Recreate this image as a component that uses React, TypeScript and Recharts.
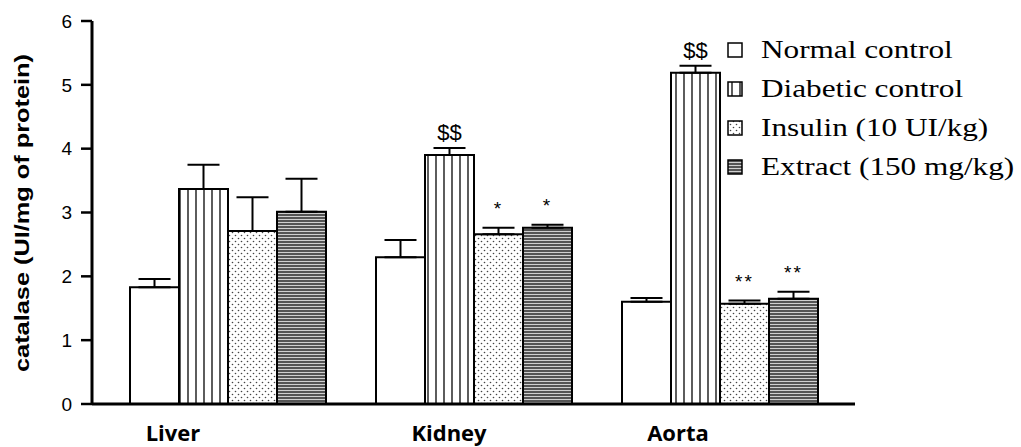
import React from 'react';
import { BarChart, Bar, XAxis, YAxis, ErrorBar, LabelList, Legend } from 'recharts';

const organs = ['Liver', 'Kidney', 'Aorta'];

const normalControl = [1.83, 2.3, 1.6];
const normalControlErr = [0.13, 0.27, 0.06];
const diabeticControl = [3.37, 3.9, 5.19];
const diabeticControlErr = [0.38, 0.11, 0.11];
const insulin = [2.71, 2.66, 1.57];
const insulinErr = [0.53, 0.1, 0.05];
const extract = [3.01, 2.76, 1.65];
const extractErr = [0.52, 0.05, 0.11];

const normalMarks = ['', '', ''];
const diabeticMarks = ['', '$$', '$$'];
const insulinMarks = ['', '*', '**'];
const extractMarks = ['', '*', '**'];

const yTicks = [0, 1, 2, 3, 4, 5, 6];

// label nudges, the original labels are not centred under the groups
const labelShift = [-55, -25, -42];

const series = [
  { key: 'normal', name: 'Normal control', fill: '#ffffff', values: normalControl, errs: normalControlErr, marks: normalMarks },
  { key: 'diabetic', name: 'Diabetic control', fill: 'url(#vlines)', values: diabeticControl, errs: diabeticControlErr, marks: diabeticMarks },
  { key: 'insulin', name: 'Insulin (10 UI/kg)', fill: 'url(#dots)', values: insulin, errs: insulinErr, marks: insulinMarks },
  { key: 'extract', name: 'Extract (150 mg/kg)', fill: 'url(#hlines)', values: extract, errs: extractErr, marks: extractMarks },
];

const data = organs.map((organ, i) => {
  const row: any = { organ };
  series.forEach((s) => {
    row[s.key] = s.values[i];
    row[s.key + 'Err'] = [0, s.errs[i]];
    row[s.key + 'Mark'] = s.marks[i];
  });
  return row;
});

const makeMark = (s: (typeof series)[number]) => (props: any) => {
  const vb = props.viewBox || props;
  const x = props.x ?? vb.x;
  const y = props.y ?? vb.y;
  const width = props.width ?? vb.width;
  const height = props.height ?? vb.height;
  const i = props.index;
  const text = s.marks[i];
  if (!text) return null;
  const ppu = height / s.values[i];
  const errTop = y - s.errs[i] * ppu;
  const dollars = text.startsWith('$');
  return (
    <text
      x={x + width / 2}
      y={errTop - (dollars ? 8 : 13)}
      textAnchor="middle"
      fontFamily="Liberation Sans, Arial"
      fontSize={dollars ? 22 : 19}
      letterSpacing={dollars ? 0 : 2}
      fill="#000"
    >
      {text}
    </text>
  );
};

const OrganTick = (props: any) => {
  const { x, y, payload, index } = props;
  return (
    <text
      x={x + labelShift[index]}
      y={y + 37}
      textAnchor="middle"
      fontFamily="Open Sans, Liberation Sans"
      fontWeight={700}
      fontSize={22}
      fill="#000"
    >
      {payload.value}
    </text>
  );
};

const YTitle = () => (
  <text
    x={22}
    y={213}
    transform="rotate(-90 22 213)"
    textAnchor="middle"
    dominantBaseline="central"
    fontFamily="Liberation Sans, Arial"
    fontWeight={700}
    fontSize={20}
    textLength={318}
    lengthAdjust="spacingAndGlyphs"
    fill="#000"
  >
    catalase (UI/mg of protein)
  </text>
);

const LegendBox = () => (
  <svg width={300} height={170}>
    {series.map((s, i) => {
      const cy = 20 + i * 39;
      return (
        <g key={s.key}>
          <rect x={8} y={cy - 7} width={14} height={14} fill={s.fill} stroke="#000" strokeWidth={1.5} />
          <text
            x={41}
            y={cy + 8.5}
            fontFamily="Liberation Serif, Times New Roman"
            fontSize={25}
            fill="#000"
            transform={`translate(41 0) scale(1.25 1) translate(-41 0)`}
          >
            {s.name}
          </text>
        </g>
      );
    })}
  </svg>
);

export default function App() {
  return (
    <div style={{ position: 'absolute', left: 0, top: 0, width: 1021, height: 447, background: '#fff' }}>
      <svg width={0} height={0} style={{ position: 'absolute' }}>
        <defs>
          <pattern id="vlines" patternUnits="userSpaceOnUse" width={8} height={8}>
            <rect width={8} height={8} fill="#fff" />
            <line x1={4} y1={0} x2={4} y2={8} stroke="#333" strokeWidth={1.6} />
          </pattern>
          <pattern id="dots" patternUnits="userSpaceOnUse" width={6} height={6}>
            <rect width={6} height={6} fill="#fff" />
            <circle cx={1.5} cy={1.5} r={0.8} fill="#444" />
            <circle cx={4.5} cy={4.5} r={0.8} fill="#444" />
          </pattern>
          <pattern id="hlines" patternUnits="userSpaceOnUse" width={6} height={3}>
            <rect width={6} height={3} fill="#555" />
            <rect y={0} width={6} height={1} fill="#d0d0d0" />
          </pattern>
        </defs>
      </svg>
      <BarChart
        width={1021}
        height={447}
        data={data}
        margin={{ top: 21, right: 166, left: 0, bottom: 12 }}
        barCategoryGap={25}
        barGap={0}
      >
        <XAxis
          dataKey="organ"
          height={1}
          axisLine={{ stroke: '#000', strokeWidth: 3 }}
          tickLine={false}
          tickSize={0}
          tickMargin={0}
          tick={<OrganTick />}
          padding={{ left: 13, right: 12 }}
          interval={0}
        />
        <XAxis
          xAxisId="frame"
          type="number"
          domain={[0, 1]}
          ticks={[0, 1]}
          height={30}
          axisLine={false}
          tick={false}
          tickLine={{ stroke: '#000', strokeWidth: 3 }}
          tickSize={6}
        />
        <YAxis
          width={92}
          domain={[0, 6]}
          ticks={yTicks}
          interval={0}
          axisLine={{ stroke: '#000', strokeWidth: 3 }}
          tickLine={{ stroke: '#000', strokeWidth: 2.5 }}
          tickSize={11}
          tickMargin={9}
          tick={{ fontSize: 19, fill: '#000', fontFamily: 'Liberation Sans, Arial' }}
          label={{ content: () => <YTitle /> }}
        />
        <Legend
          layout="vertical"
          align="center"
          verticalAlign="middle"
          content={<LegendBox />}
          wrapperStyle={{ left: 720, top: 30, width: 300, height: 170 }}
        />
        {series.map((s) => (
          <Bar
            key={s.key}
            dataKey={s.key}
            name={s.name}
            fill={s.fill}
            stroke="#000"
            strokeWidth={2}
            isAnimationActive={false}
          >
            <ErrorBar dataKey={s.key + 'Err'} direction="y" width={16} stroke="#000" strokeWidth={2} />
            <LabelList dataKey={s.key + 'Mark'} content={makeMark(s)} />
          </Bar>
        ))}
      </BarChart>
    </div>
  );
}
